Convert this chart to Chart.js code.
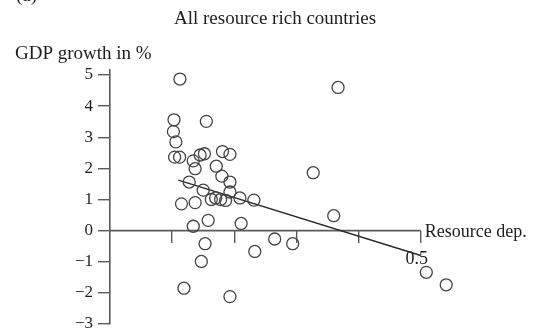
<!DOCTYPE html>
<html>
<head>
<meta charset="utf-8">
<script src="https://cdn.jsdelivr.net/npm/chart.js@4.4.1/dist/chart.umd.min.js"></script>
<style>
  html, body { margin: 0; padding: 0; background: #ffffff; }
  #wrap { width: 535px; height: 334px; position: relative; }
</style>
</head>
<body>
<div id="wrap"><canvas id="chart"></canvas></div>
<script>
// Resource dependence (share) and average GDP growth (%) per country
const resourceDep = [
  0.1125, 0.367, 0.155, 0.103, 0.102, 0.106, 0.104, 0.112, 0.134, 0.137,
  0.145, 0.152, 0.181, 0.193, 0.171, 0.180, 0.193, 0.1275, 0.150, 0.193,
  0.115, 0.137, 0.163, 0.170, 0.178, 0.186, 0.209, 0.2315, 0.327, 0.158,
  0.134, 0.211, 0.360, 0.153, 0.147, 0.119, 0.193, 0.233, 0.265, 0.294,
  0.509, 0.541
];
const gdpGrowth = [
  4.87, 4.60, 3.51, 3.56, 3.18, 2.85, 2.36, 2.36, 2.24, 1.99,
  2.43, 2.47, 2.54, 2.45, 2.07, 1.75, 1.56, 1.56, 1.30, 1.24,
  0.86, 0.90, 1.00, 1.05, 1.00, 0.97, 1.05, 0.98, 1.86, 0.33,
  0.14, 0.23, 0.48, -0.42, -0.99, -1.85, -2.12, -0.67, -0.27, -0.42,
  -1.34, -1.74
];

// Fitted regression line (end points)
const fitX = [0.11, 0.5];
const fitY = [1.62, -0.80];

// Axis settings
const yTickValues = [5, 4, 3, 2, 1, 0, -1, -2, -3];
const yRangeMin = -3;
const yRangeMax = 5.16;   // axis line runs a little past the top tick
const xTickValues = [0.1, 0.2, 0.3, 0.4, 0.5];
const xLabelledTick = 0.5;
const xAxisEnd = 0.5;     // the drawn axis stops here
const xRangeMax = 0.56;   // room for the countries beyond the axis end

const TITLE = 'All resource rich countries';
const Y_TITLE = 'GDP growth in %';
const X_TITLE = 'Resource dep.';
const PANEL = '(a)';

const SERIF = '"Liberation Serif", "Times New Roman", serif';
const TEXT_COLOR = '#1e1e1e';
const AXIS_COLOR = '#5a5a5a';
const MARK_COLOR = '#444444';

const points = resourceDep.map((x, i) => ({ x: x, y: gdpGrowth[i] }));
const fitPoints = fitX.map((x, i) => ({ x: x, y: fitY[i] }));

// Horizontal axis line running from 0 to the axis end at growth = 0
const xAxisLinePlugin = {
  id: 'xAxisLine',
  beforeDatasetsDraw(chart) {
    const ctx = chart.ctx;
    const xs = chart.scales.x;
    const ys = chart.scales.y;
    const y0 = ys.getPixelForValue(0);
    ctx.save();
    ctx.strokeStyle = AXIS_COLOR;
    ctx.lineWidth = 1.6;
    ctx.beginPath();
    ctx.moveTo(xs.getPixelForValue(0), y0);
    ctx.lineTo(xs.getPixelForValue(xAxisEnd), y0);
    ctx.stroke();
    ctx.restore();
  }
};

const textPlugin = {
  id: 'freeLabels',
  afterDraw(chart) {
    const ctx = chart.ctx;
    const xs = chart.scales.x;
    const ys = chart.scales.y;
    ctx.save();
    ctx.fillStyle = TEXT_COLOR;
    ctx.textBaseline = 'alphabetic';

    ctx.font = '19px ' + SERIF;
    ctx.textAlign = 'left';
    ctx.fillText(PANEL, 16, 1);

    ctx.textAlign = 'center';
    ctx.fillText(TITLE, 275, 24);

    ctx.textAlign = 'left';
    ctx.fillText(Y_TITLE, 15, 59);

    ctx.font = '18px ' + SERIF;
    ctx.fillText(X_TITLE, xs.getPixelForValue(xAxisEnd) + 4, ys.getPixelForValue(0) + 6);
    ctx.restore();
  }
};

const axisGrid = {
  display: true,
  drawOnChartArea: false,
  drawTicks: true,
  tickLength: 12,
  color: AXIS_COLOR,
  lineWidth: 1.4
};

new Chart(document.getElementById('chart'), {
  type: 'scatter',
  data: {
    datasets: [
      {
        data: points,
        pointStyle: 'circle',
        pointRadius: 6,
        pointHoverRadius: 6,
        pointBorderWidth: 1.3,
        pointBorderColor: MARK_COLOR,
        pointBackgroundColor: 'rgba(0,0,0,0)',
        showLine: false,
        clip: false
      },
      {
        type: 'line',
        data: fitPoints,
        borderColor: '#2a2a2a',
        borderWidth: 1.4,
        pointRadius: 0,
        fill: false,
        clip: false
      }
    ]
  },
  options: {
    responsive: true,
    maintainAspectRatio: false,
    animation: false,
    devicePixelRatio: 1,
    layout: { padding: { left: 0, right: 77, top: 70, bottom: 10 } },
    plugins: {
      legend: { display: false },
      tooltip: { enabled: false },
      title: { display: false }
    },
    scales: {
      x: {
        type: 'linear',
        position: { y: 0 },
        min: 0,
        max: xRangeMax,
        grid: axisGrid,
        border: { display: false },
        afterBuildTicks(scale) {
          scale.ticks = xTickValues.map(v => ({ value: v }));
        },
        afterFit(scale) {
          scale.height = 0;
          scale.paddingLeft = 0;
          scale.paddingRight = 0;
        },
        ticks: {
          color: TEXT_COLOR,
          font: { family: SERIF, size: 18 },
          padding: 6,
          labelOffset: -4,
          maxRotation: 0,
          autoSkip: false,
          callback: (v) => Math.abs(v - xLabelledTick) < 1e-9 ? String(xLabelledTick) : ''
        }
      },
      y: {
        type: 'linear',
        position: 'left',
        min: yRangeMin,
        max: yRangeMax,
        grid: axisGrid,
        border: { display: true, color: AXIS_COLOR, width: 1.6 },
        afterBuildTicks(scale) {
          scale.ticks = yTickValues.map(v => ({ value: v }));
        },
        afterFit(scale) {
          scale.width = 110;
          scale.paddingTop = 0;
          scale.paddingBottom = 0;
        },
        ticks: {
          color: TEXT_COLOR,
          font: { family: SERIF, size: 17 },
          padding: 5,
          autoSkip: false,
          callback: (v) => (v < 0 ? '\u2212' + Math.abs(v) : String(v))
        }
      }
    }
  },
  plugins: [xAxisLinePlugin, textPlugin]
});
</script>
</body>
</html>
